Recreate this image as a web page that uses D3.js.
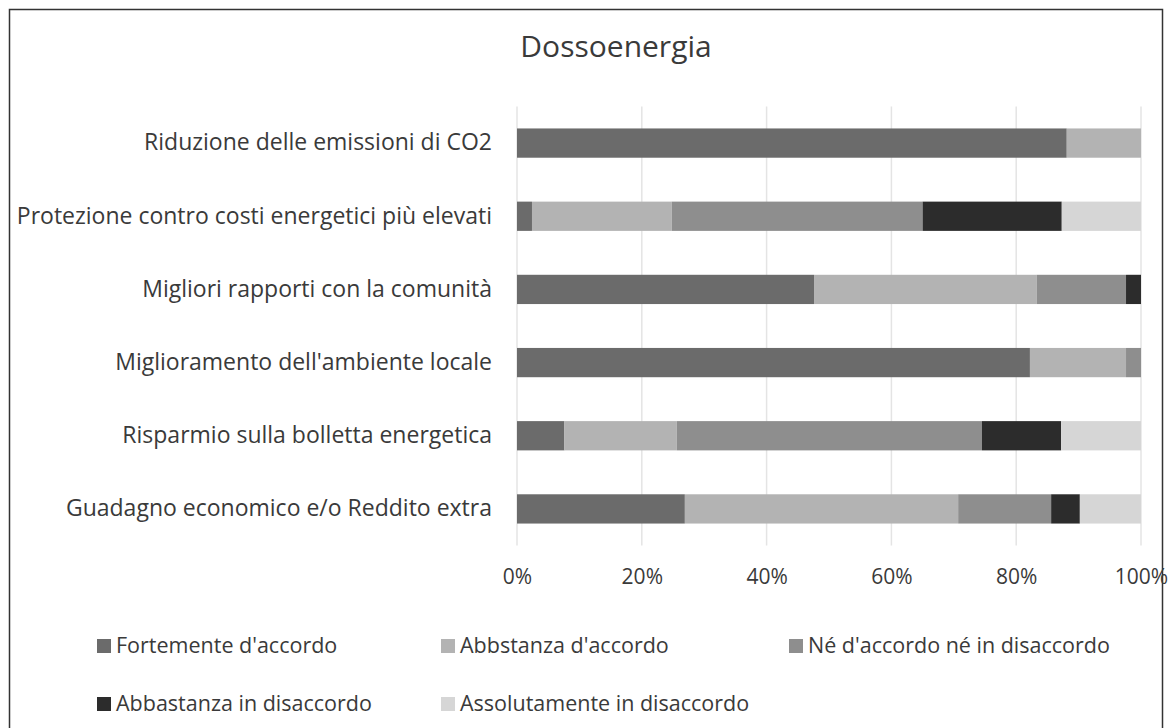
<!doctype html>
<html lang="it">
<head>
<meta charset="UTF-8">
<title>Dossoenergia</title>
<script src="https://d3js.org/d3.v7.min.js"></script>
<style>
  body { margin: 0; background: #fff; }
  text { font-family: "Open Sans", sans-serif; fill: #3a3a3a; }
</style>
</head>
<body>
<div id="chart-area"></div>
<script>
const categories = [
    'Riduzione delle emissioni di CO2',
    'Protezione contro costi energetici più elevati',
    'Migliori rapporti con la comunità',
    "Miglioramento dell'ambiente locale",
    'Risparmio sulla bolletta energetica',
    'Guadagno economico e/o Reddito extra'
];

const seriesNames = [
    "Fortemente d'accordo",
    "Abbstanza d'accordo",
    "Né d'accordo né in disaccordo",
    'Abbastanza in disaccordo',
    'Assolutamente in disaccordo'
];

// percent values, one array per series, in category order
const fortemente   = [88.1,  2.4, 47.6, 82.2,  7.6, 26.9];
const abbastanza   = [11.9, 22.4, 35.7, 15.4, 18.0, 43.8];
const neutro       = [ 0.0, 40.2, 14.3,  2.4, 48.9, 14.9];
const disaccordo   = [ 0.0, 22.3,  2.4,  0.0, 12.7,  4.6];
const assolutamente = [0.0, 12.7,  0.0,  0.0, 12.8,  9.8];

const tickValues = [0, 20, 40, 60, 80, 100];
const colors = ['#6b6b6b', '#b3b3b3', '#8e8e8e', '#2c2c2c', '#d6d6d6'];

const W = 1171, H = 728;
const plotL = 517, plotR = 1141, plotT = 106.5, plotB = 545.5;

const rows = categories.map((c, i) => ({
    cat: c,
    [seriesNames[0]]: fortemente[i],
    [seriesNames[1]]: abbastanza[i],
    [seriesNames[2]]: neutro[i],
    [seriesNames[3]]: disaccordo[i],
    [seriesNames[4]]: assolutamente[i]
}));

const stacked = d3.stack().keys(seriesNames)(rows);

const x = d3.scaleLinear().domain([0, 100]).range([plotL, plotR]);
const y = d3.scaleBand().domain(categories).range([plotT, plotB]).paddingInner(0.6).paddingOuter(0.3);

const svg = d3.select('#chart-area')
    .append('svg')
    .attr('width', W)
    .attr('height', H);

svg.append('rect')
    .attr('x', 9.5).attr('y', 9.5)
    .attr('width', 1153).attr('height', 740)
    .attr('fill', '#fff')
    .attr('stroke', '#333')
    .attr('stroke-width', 1.5);

svg.append('text')
    .attr('x', 616).attr('y', 57)
    .attr('text-anchor', 'middle')
    .style('font-size', '30px')
    .text('Dossoenergia');

// gridlines
svg.append('g')
    .selectAll('line')
    .data(tickValues)
    .enter()
    .append('line')
    .attr('x1', d => x(d)).attr('x2', d => x(d))
    .attr('y1', plotT).attr('y2', plotB)
    .attr('stroke', '#e4e4e4')
    .attr('stroke-width', 1.5);

svg.append('g')
    .selectAll('g')
    .data(stacked)
    .enter()
    .append('g')
    .attr('fill', (d, i) => colors[i])
    .selectAll('rect')
    .data(d => d)
    .enter()
    .append('rect')
    .attr('x', d => x(d[0]))
    .attr('y', d => y(d.data.cat))
    .attr('width', d => x(d[1]) - x(d[0]))
    .attr('height', y.bandwidth());

// category labels
const yAxis = svg.append('g')
    .attr('transform', `translate(${plotL},0)`)
    .call(d3.axisLeft(y).tickSize(0).tickPadding(25));
yAxis.select('.domain').remove();
yAxis.selectAll('text')
    .style('font-size', '23px')
    .style('font-family', '"Open Sans", sans-serif')
    .attr('fill', '#3a3a3a');

// percent axis
const xAxis = svg.append('g')
    .attr('transform', `translate(0,${plotB})`)
    .call(d3.axisBottom(x).tickValues(tickValues).tickFormat(d => d + '%').tickSize(0).tickPadding(24));
xAxis.select('.domain').remove();
xAxis.selectAll('text')
    .style('font-size', '21px')
    .style('font-family', '"Open Sans", sans-serif')
    .attr('fill', '#3a3a3a');

// legend
const legendPos = [[97, 646], [441, 646], [789, 646], [97, 704], [441, 704]];
const legend = svg.append('g')
    .selectAll('g')
    .data(seriesNames)
    .enter()
    .append('g')
    .attr('transform', (d, i) => `translate(${legendPos[i][0]},${legendPos[i][1]})`);
legend.append('rect')
    .attr('x', 0).attr('y', -7)
    .attr('width', 14).attr('height', 14)
    .attr('fill', (d, i) => colors[i]);
legend.append('text')
    .attr('x', 19).attr('y', 7)
    .style('font-size', '21.5px')
    .text(d => d);
</script>
</body>
</html>
